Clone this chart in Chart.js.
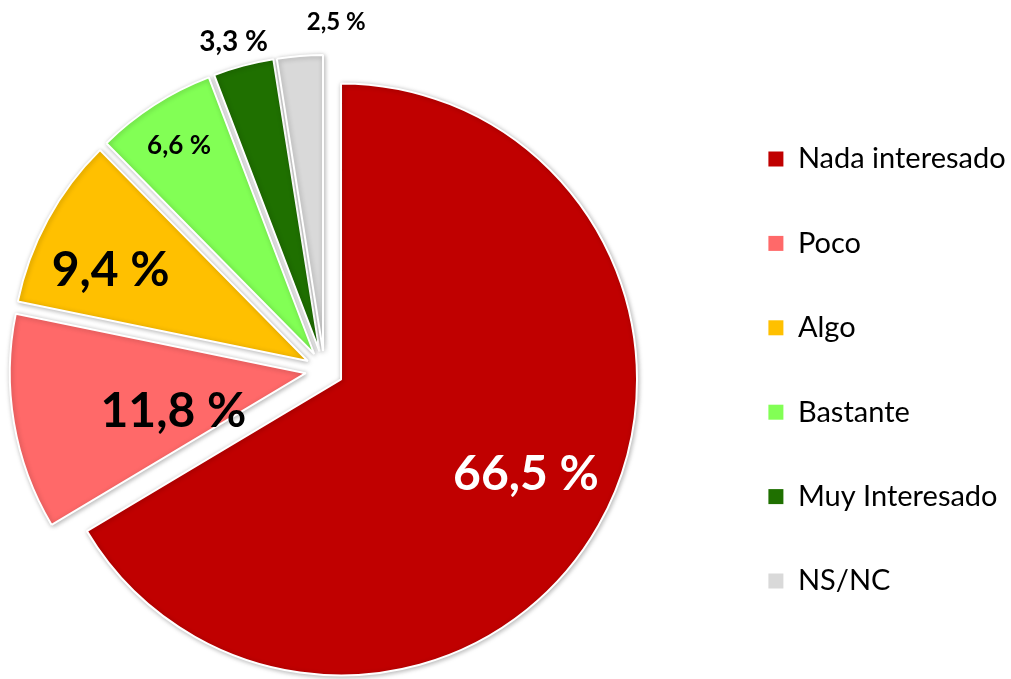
<!DOCTYPE html>
<html>
<head>
<meta charset="utf-8">
<script src="https://cdn.jsdelivr.net/npm/chart.js@4.4.1/dist/chart.umd.min.js"></script>
<style>
  html, body { margin: 0; padding: 0; background: #ffffff; }
  #frame { position: relative; width: 1011px; height: 679px; overflow: hidden; }
  #wrap { position: absolute; left: -64px; top: 0; width: 1075px; height: 679px; }
</style>
</head>
<body>
<div id="frame"><div id="wrap"><canvas id="chart"></canvas></div></div>
<script>
// ---- data ----
const categories = ['Nada interesado', 'Poco', 'Algo', 'Bastante', 'Muy Interesado', 'NS/NC'];
const values = [66.5, 11.8, 9.4, 6.6, 3.3, 2.5];
const sliceColors = ['#C00000', '#FF6969', '#FFC000', '#82FF55', '#1F7000', '#D9D9D9'];

// ---- label styling (not data) ----
const labelColors = ['#FFFFFF', '#000000', '#000000', '#000000', '#000000', '#000000'];
const labelSizes = [48, 48, 48, 26, 28, 24];
const labelRadiusFrac = [0.703, 0.466, 0.733, 0.838, 1.085, 1.11];
const labelAngleShift = [-2.3, -6.7, -3.8, -0.3, -0.6, 6.8];

const EXPLODE = 19;   // px each slice is pulled out from the centre
const RADIUS = 296;

function fmt(v) { return v.toFixed(1).replace('.', ',') + ' %'; }

// pull every slice outward along its mid-angle (library draws the arc itself)
const explodePlugin = {
  id: 'explode',
  afterDatasetUpdate(chart, args) {
    args.meta.data.forEach(el => {
      if (el._exploded) return;
      el._exploded = true;
      const base = el.draw;
      el.draw = function (ctx, area) {
        const mid = (this.startAngle + this.endAngle) / 2;
        ctx.save();
        ctx.translate(Math.cos(mid) * EXPLODE, Math.sin(mid) * EXPLODE);
        base.call(this, ctx, area);
        ctx.restore();
      };
    });
  }
};

const shadowPlugin = {
  id: 'sliceShadow',
  beforeDatasetsDraw(chart) {
    const ctx = chart.ctx;
    ctx.save();
    ctx.shadowColor = 'rgba(0,0,0,0.28)';
    ctx.shadowBlur = 5;
    ctx.shadowOffsetX = 1;
    ctx.shadowOffsetY = 1;
  },
  afterDatasetsDraw(chart) {
    chart.ctx.restore();
  }
};

const labelPlugin = {
  id: 'sliceLabels',
  afterDatasetsDraw(chart) {
    const ctx = chart.ctx;
    const meta = chart.getDatasetMeta(0);
    meta.data.forEach((arc, i) => {
      const mid = (arc.startAngle + arc.endAngle) / 2;
      const cx = arc.x + Math.cos(mid) * EXPLODE;
      const cy = arc.y + Math.sin(mid) * EXPLODE;
      const a = mid + labelAngleShift[i] * Math.PI / 180;
      const r = arc.outerRadius * labelRadiusFrac[i];
      const x = cx + Math.cos(a) * r;
      const y = cy + Math.sin(a) * r;
      ctx.save();
      ctx.font = 'bold ' + labelSizes[i] + 'px Lato, "Open Sans", sans-serif';
      ctx.fillStyle = labelColors[i];
      ctx.textAlign = 'center';
      ctx.textBaseline = 'middle';
      ctx.fillText(fmt(values[i]), x, y);
      ctx.restore();
    });
  }
};

const pieLabels = Chart.overrides.pie.plugins.legend.labels.generateLabels;

new Chart(document.getElementById('chart'), {
  type: 'pie',
  data: {
    labels: categories,
    datasets: [{
      data: values,
      backgroundColor: sliceColors,
      borderColor: '#FFFFFF',
      borderWidth: 2,
      radius: RADIUS,
      clip: false,
      offset: 0,
      hoverOffset: 0
    }]
  },
  options: {
    responsive: true,
    maintainAspectRatio: false,
    animation: false,
    events: [],
    radius: RADIUS,
    layout: { padding: { left: 0, right: 0, top: 61, bottom: 0 } },
    plugins: {
      tooltip: { enabled: false },
      legend: {
        position: 'right',
        maxWidth: 298,
        labels: {
          font: { family: 'Lato, "Open Sans", sans-serif', size: 29 },
          color: '#000000',
          boxWidth: 15,
          boxHeight: 15,
          padding: 55.4,
          generateLabels(chart) {
            return pieLabels(chart).map(l => Object.assign(l, { lineWidth: 0 }));
          }
        }
      }
    }
  },
  plugins: [explodePlugin, shadowPlugin, labelPlugin]
});
</script>
</body>
</html>
